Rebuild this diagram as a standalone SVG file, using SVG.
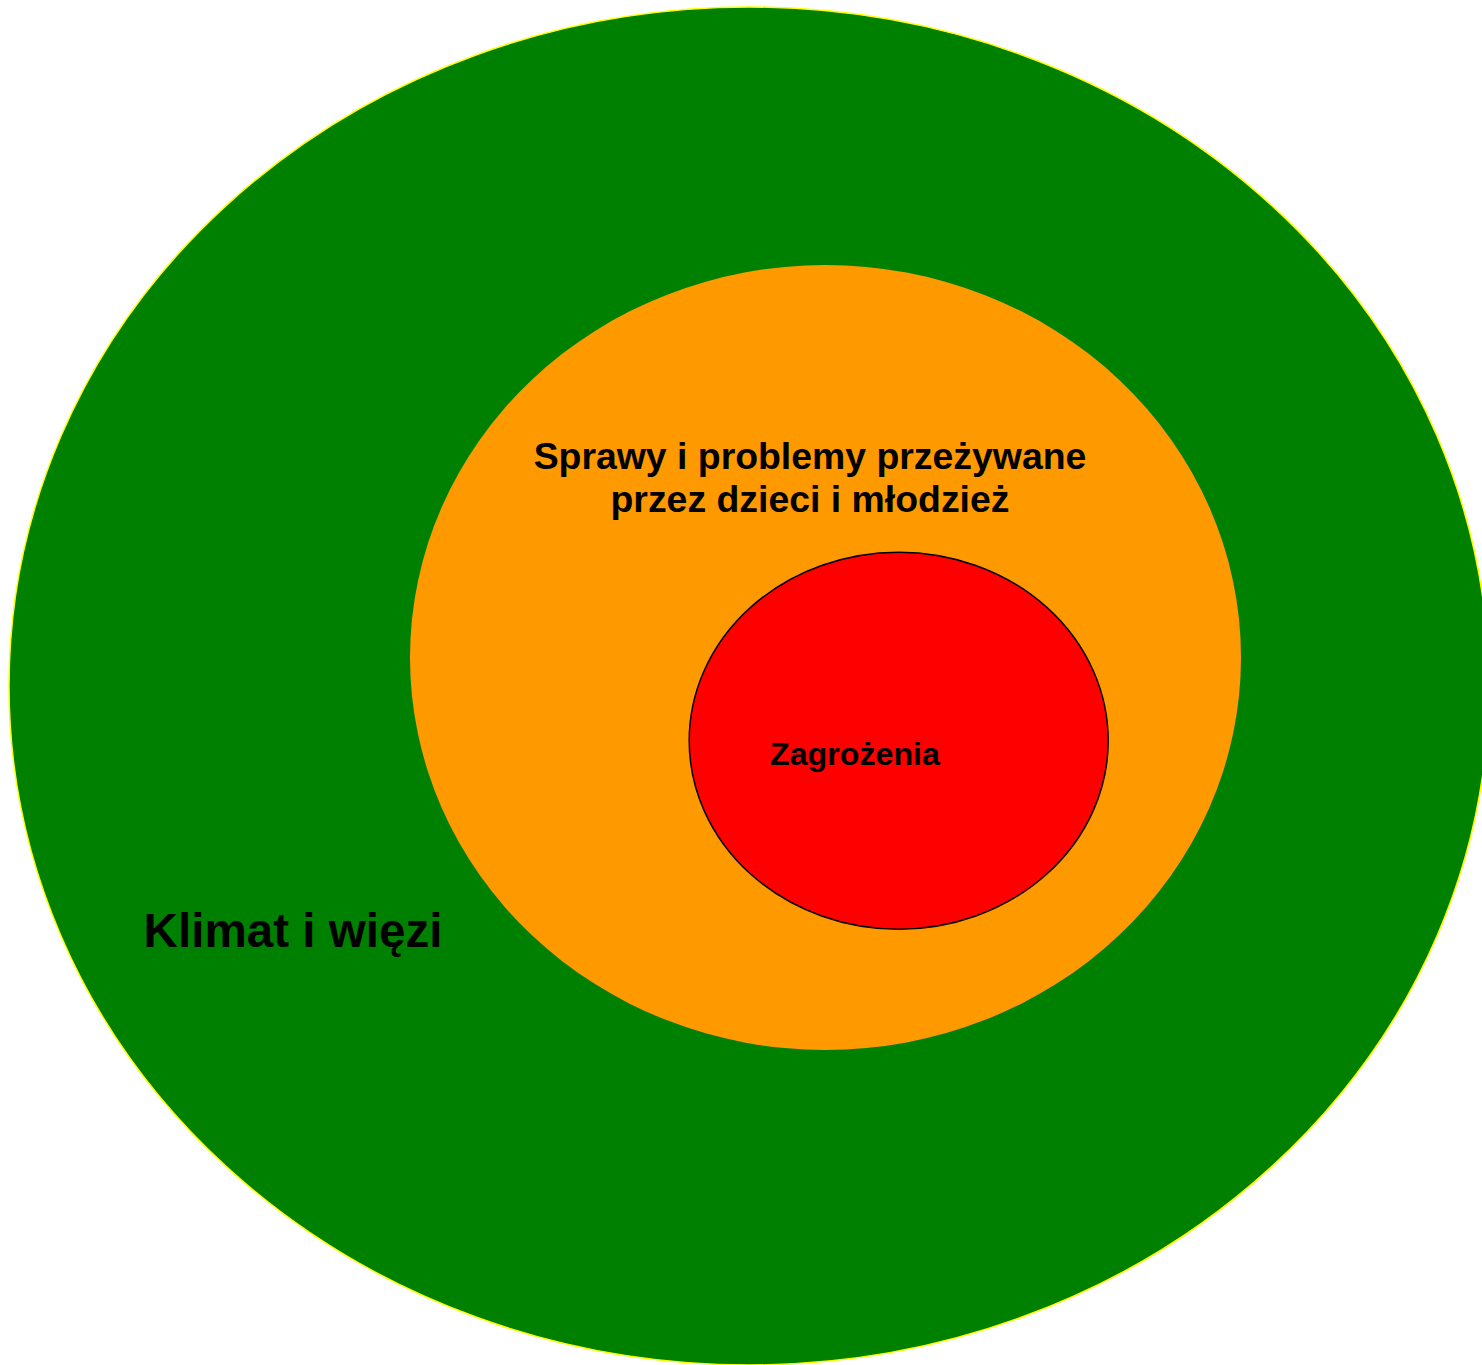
<svg xmlns="http://www.w3.org/2000/svg" width="1482" height="1365" viewBox="0 0 1482 1365">
  <style>
    .lbl { font-family: "Liberation Sans", Arial, sans-serif; font-weight: bold; fill: #000000; }
  </style>
  <rect x="0" y="0" width="1482" height="1365" fill="#FFFFFF"/>
  <g id="node-klimat">
    <ellipse cx="749" cy="686" rx="740" ry="679" fill="#008000" stroke="#FFFF00" stroke-width="1.5"/>
    <text class="lbl" x="293" y="947" font-size="47.6" text-anchor="middle">Klimat i więzi</text>
  </g>
  <g id="node-sprawy">
    <ellipse cx="825.5" cy="657.5" rx="415.5" ry="392.5" fill="#FF9900"/>
    <text class="lbl" x="810" y="469" font-size="37.4" text-anchor="middle">Sprawy i problemy przeżywane</text>
    <text class="lbl" x="810" y="512" font-size="37.4" text-anchor="middle">przez dzieci i młodzież</text>
  </g>
  <g id="node-zagrozenia">
    <ellipse cx="898.7" cy="740.7" rx="209.5" ry="188.5" fill="#FF0000" stroke="#000000" stroke-width="1.5"/>
    <text class="lbl" x="855" y="765" font-size="32.2" text-anchor="middle">Zagrożenia</text>
  </g>
  <g id="connectors"></g>
</svg>
